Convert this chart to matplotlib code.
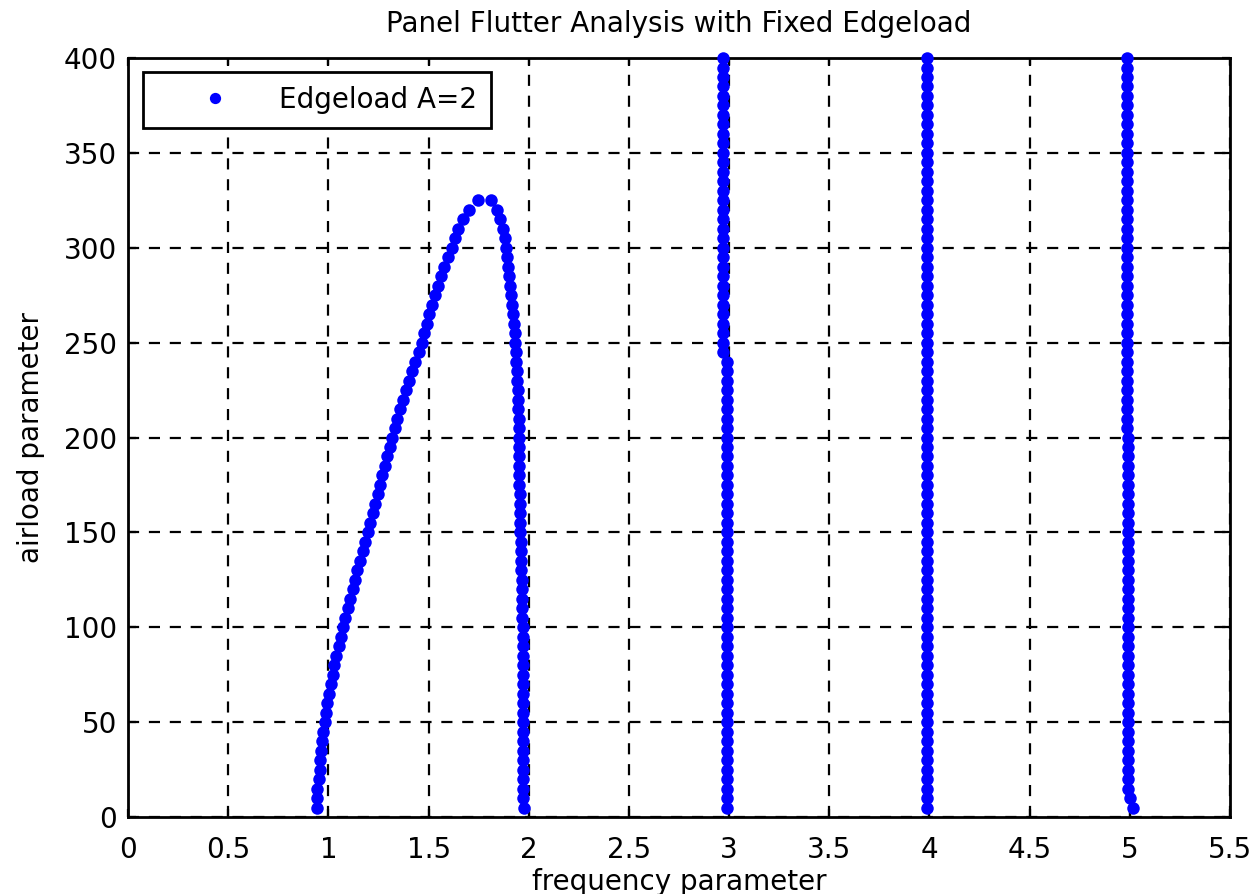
import numpy as np
import matplotlib
matplotlib.use("Agg")
import matplotlib.pyplot as plt
from matplotlib.ticker import FormatStrFormatter

# airload sweep, mode 1 and 2 stop where they coalesce
airload_low = [5, 10, 15, 20, 25, 30, 35, 40, 45, 50,
               55, 60, 65, 70, 75, 80, 85, 90, 95, 100,
               105, 110, 115, 120, 125, 130, 135, 140, 145, 150,
               155, 160, 165, 170, 175, 180, 185, 190, 195, 200,
               205, 210, 215, 220, 225, 230, 235, 240, 245, 250,
               255, 260, 265, 270, 275, 280, 285, 290, 295, 300,
               305, 310, 315, 320, 325]
airload_full = airload_low + [330, 335, 340, 345, 350, 355, 360, 365, 370, 375,
                              380, 385, 390, 395, 400]

# frequency parameter of each mode at those airloads
mode1 = [0.943, 0.943, 0.945, 0.952, 0.958, 0.960, 0.965, 0.968, 0.975, 0.983,
         0.990, 0.995, 1.003, 1.012, 1.022, 1.030, 1.040, 1.052, 1.062, 1.073,
         1.085, 1.097, 1.109, 1.121, 1.133, 1.145, 1.158, 1.171, 1.184, 1.198,
         1.210, 1.222, 1.234, 1.246, 1.258, 1.270, 1.282, 1.294, 1.306, 1.318,
         1.330, 1.342, 1.355, 1.370, 1.386, 1.402, 1.418, 1.434, 1.450, 1.466,
         1.478, 1.490, 1.504, 1.518, 1.532, 1.546, 1.560, 1.578, 1.596, 1.615,
         1.632, 1.648, 1.670, 1.700, 1.747]
mode2 = [1.975, 1.972, 1.971, 1.970, 1.970, 1.970, 1.970, 1.970, 1.970, 1.970,
         1.970, 1.970, 1.970, 1.970, 1.970, 1.970, 1.970, 1.970, 1.970, 1.970,
         1.967, 1.966, 1.965, 1.965, 1.964, 1.963, 1.962, 1.961, 1.960, 1.958,
         1.957, 1.956, 1.955, 1.954, 1.953, 1.953, 1.952, 1.952, 1.951, 1.951,
         1.950, 1.949, 1.948, 1.947, 1.945, 1.943, 1.940, 1.937, 1.934, 1.931,
         1.929, 1.926, 1.922, 1.915, 1.909, 1.904, 1.899, 1.895, 1.891, 1.886,
         1.880, 1.872, 1.858, 1.840, 1.813]
mode3 = [2.987, 2.987, 2.987, 2.987, 2.987, 2.987, 2.987, 2.987, 2.987, 2.987,
         2.987, 2.987, 2.987, 2.987, 2.987, 2.987, 2.987, 2.987, 2.987, 2.987,
         2.987, 2.987, 2.987, 2.987, 2.987, 2.987, 2.987, 2.987, 2.987, 2.987,
         2.987, 2.987, 2.987, 2.987, 2.987, 2.987, 2.987, 2.987, 2.987, 2.987,
         2.987, 2.987, 2.987, 2.987, 2.987, 2.987, 2.987, 2.987, 2.970, 2.970,
         2.970, 2.970, 2.970, 2.970, 2.970, 2.970, 2.970, 2.970, 2.970, 2.970,
         2.970, 2.970, 2.970, 2.970, 2.970, 2.970, 2.970, 2.970, 2.970, 2.970,
         2.970, 2.970, 2.970, 2.970, 2.970, 2.970, 2.970, 2.970, 2.970, 2.970]
mode4 = [3.988, 3.988, 3.988, 3.988, 3.988, 3.988, 3.988, 3.988, 3.988, 3.988,
         3.988, 3.988, 3.988, 3.988, 3.988, 3.988, 3.988, 3.988, 3.988, 3.988,
         3.988, 3.988, 3.988, 3.988, 3.988, 3.988, 3.988, 3.988, 3.988, 3.988,
         3.988, 3.988, 3.988, 3.988, 3.988, 3.988, 3.988, 3.988, 3.988, 3.988,
         3.988, 3.988, 3.988, 3.988, 3.988, 3.988, 3.988, 3.988, 3.988, 3.988,
         3.988, 3.988, 3.988, 3.988, 3.988, 3.988, 3.988, 3.988, 3.988, 3.988,
         3.988, 3.988, 3.988, 3.988, 3.988, 3.988, 3.988, 3.988, 3.988, 3.988,
         3.988, 3.988, 3.988, 3.988, 3.988, 3.988, 3.988, 3.988, 3.988, 3.988]
mode5 = [5.015, 5.000, 4.993, 4.990, 4.990, 4.990, 4.990, 4.990, 4.990, 4.990,
         4.990, 4.990, 4.990, 4.990, 4.990, 4.990, 4.990, 4.990, 4.990, 4.990,
         4.990, 4.990, 4.990, 4.990, 4.990, 4.990, 4.990, 4.990, 4.990, 4.990,
         4.990, 4.990, 4.990, 4.990, 4.990, 4.990, 4.990, 4.990, 4.990, 4.990,
         4.988, 4.988, 4.988, 4.988, 4.988, 4.988, 4.988, 4.988, 4.988, 4.988,
         4.986, 4.986, 4.986, 4.986, 4.986, 4.986, 4.986, 4.986, 4.986, 4.986,
         4.985, 4.985, 4.985, 4.985, 4.985, 4.985, 4.985, 4.985, 4.985, 4.985,
         4.985, 4.985, 4.985, 4.985, 4.985, 4.985, 4.985, 4.985, 4.985, 4.985]

xticks = [0, 0.5, 1, 1.5, 2, 2.5, 3, 3.5, 4, 4.5, 5, 5.5]
yticks = [0, 50, 100, 150, 200, 250, 300, 350, 400]

freq = np.concatenate([mode1, mode2, mode3, mode4, mode5])
load = np.concatenate([airload_low, airload_low, airload_full, airload_full, airload_full])

plt.rcParams["font.family"] = "DejaVu Sans"
FS = 20

fig = plt.figure(figsize=(12.54, 8.94), dpi=100)
ax = fig.add_axes([0.1021, 0.0861, 0.8788, 0.849])

ax.plot(freq, load, linestyle="none", marker="o", markersize=9,
        color="#0000ff", markeredgewidth=0, clip_on=False, label="Edgeload A=2", zorder=3)

ax.set_xlim(0, 5.5)
ax.set_ylim(0, 400)
ax.set_xticks(xticks)
ax.set_yticks(yticks)
ax.xaxis.set_major_formatter(FormatStrFormatter("%g"))
ax.tick_params(direction="in", length=6, width=1.6, top=True, right=True,
               labelsize=FS, colors="black")
ax.tick_params(axis="y", pad=8)
ax.tick_params(axis="x", pad=14)
for sp in ax.spines.values():
    sp.set_linewidth(2)

ax.grid(True, color="black", linestyle=(0, (5, 4.4)), linewidth=1.6)

ax.set_title("Panel Flutter Analysis with Fixed Edgeload", fontsize=FS, pad=19)
ax.set_xlabel("frequency parameter", fontsize=FS)
ax.set_ylabel("airload parameter", fontsize=FS)
ax.xaxis.set_label_coords(0.5, -0.067)
ax.yaxis.set_label_coords(-0.075, 0.5)

leg = ax.legend(loc="upper left", bbox_to_anchor=(0.0136, 0.9816), fontsize=FS,
                frameon=True, fancybox=False, edgecolor="black", framealpha=1,
                borderpad=0.5, handlelength=4.2, handletextpad=0.2,
                borderaxespad=0, markerscale=0.9)
leg.get_frame().set_linewidth(2)

fig.savefig("out.png", dpi=100)
